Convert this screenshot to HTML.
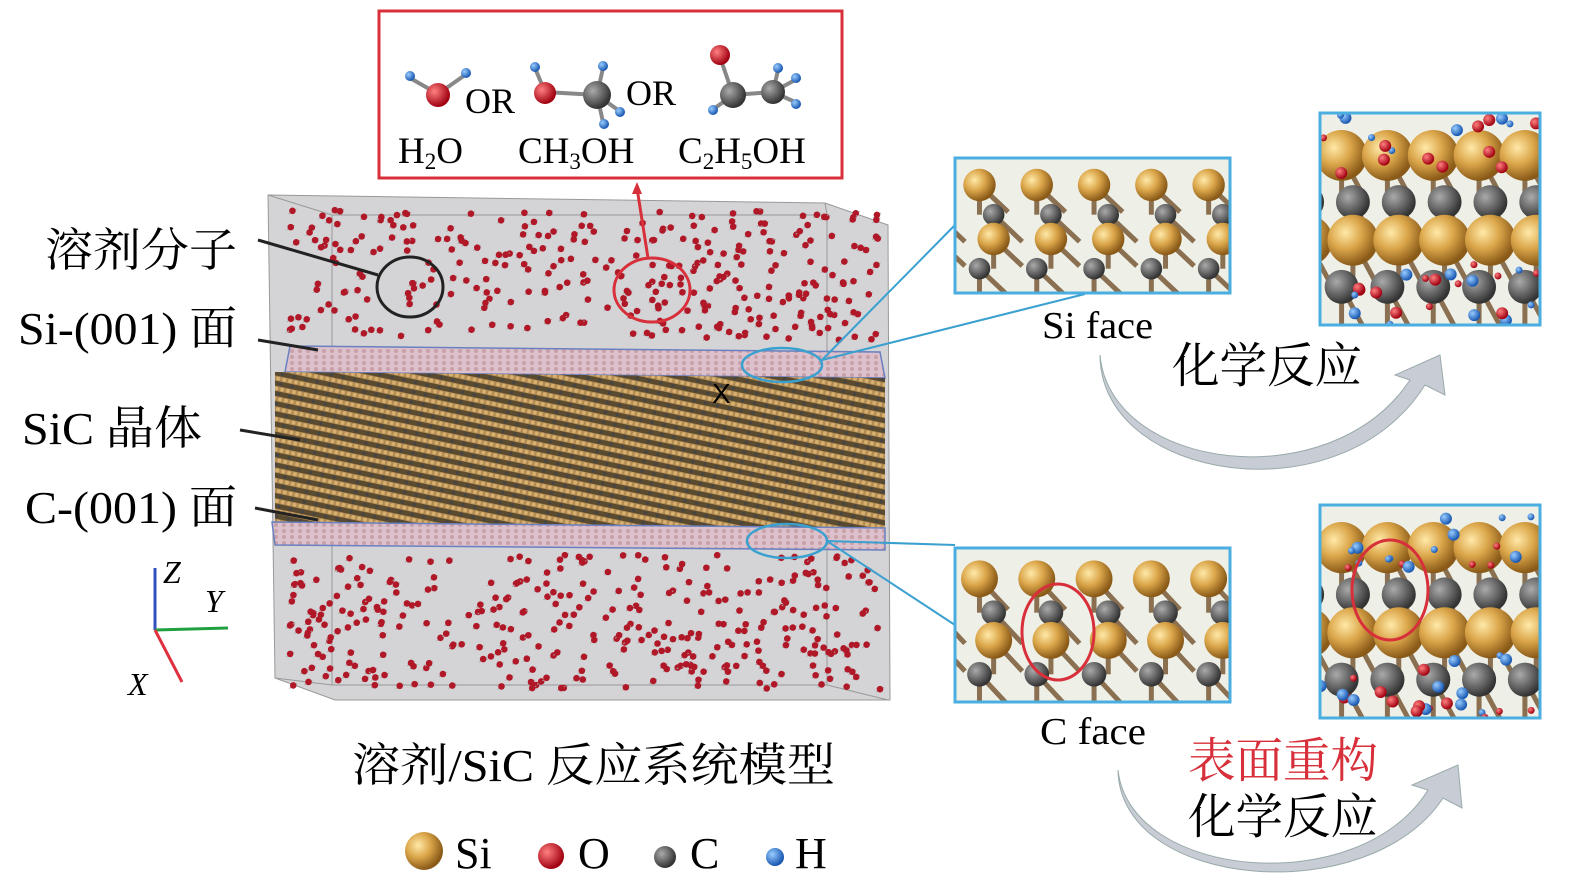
<!DOCTYPE html>
<html><head><meta charset="utf-8"><style>
body{margin:0;background:#fff;}
svg{display:block;font-family:"Liberation Serif","Noto Serif CJK SC",serif;}
</style></head><body>
<svg id="s" width="1575" height="892" viewBox="0 0 1575 892" xmlns="http://www.w3.org/2000/svg">
<defs>
<radialGradient id="gs" cx="35%" cy="35%" r="65%"><stop offset="0" stop-color="#ffe9a8"/><stop offset="0.5" stop-color="#dba64a"/><stop offset="1" stop-color="#8a5a18"/></radialGradient>
<radialGradient id="gc" cx="35%" cy="35%" r="65%"><stop offset="0" stop-color="#aaa"/><stop offset="1" stop-color="#333"/></radialGradient>
<radialGradient id="go" cx="35%" cy="35%" r="65%"><stop offset="0" stop-color="#ff8080"/><stop offset="1" stop-color="#a00010"/></radialGradient>
<radialGradient id="gh" cx="35%" cy="35%" r="65%"><stop offset="0" stop-color="#9cf"/><stop offset="1" stop-color="#1857b0"/></radialGradient>
<pattern id="cry" width="12" height="10" patternUnits="userSpaceOnUse" patternTransform="rotate(12)">
<rect width="12" height="10" fill="#5a4a30"/><rect width="12" height="5" fill="#b08a50"/><circle cx="3" cy="2.5" r="2" fill="#d8b070"/><circle cx="9" cy="2.5" r="2" fill="#d8b070"/><circle cx="6" cy="7.5" r="1.6" fill="#444"/>
</pattern>
<pattern id="pk" width="8" height="6" patternUnits="userSpaceOnUse"><rect width="8" height="6" fill="#dcc0cc"/><circle cx="4" cy="3" r="2" fill="#c8a0a8"/></pattern>
</defs>
<rect x="379" y="11" width="463" height="167" fill="#fff" stroke="#d8303a" stroke-width="3"/>
<g id="mol"></g>
<text x="465" y="113" font-size="36">OR</text>
<text x="626" y="105" font-size="36">OR</text>
<text x="398" y="163" font-size="37">H<tspan font-size="23" dy="6">2</tspan><tspan dy="-6">O</tspan></text>
<text x="518" y="163" font-size="37">CH<tspan font-size="23" dy="6">3</tspan><tspan dy="-6">OH</tspan></text>
<text x="678" y="163" font-size="37">C<tspan font-size="23" dy="6">2</tspan><tspan dy="-6">H</tspan><tspan font-size="23" dy="6">5</tspan><tspan dy="-6">OH</tspan></text>
<polygon points="268,195 825,203 888,225 890,700 335,700 275,678" fill="#d4d4d6" stroke="#999"/>
<rect x="332" y="215" width="495" height="470" fill="none" stroke="#999"/>
<line x1="268" y1="195" x2="332" y2="215" stroke="#999"/><line x1="825" y1="203" x2="827" y2="215" stroke="#999"/><line x1="275" y1="678" x2="332" y2="685" stroke="#999"/><line x1="888" y1="700" x2="827" y2="685" stroke="#999"/>
<g id="dots"></g>
<polygon points="290,346 880,352 885,378 285,372" fill="url(#pk)" stroke="#6a80c0" stroke-width="1.5"/>
<polygon points="275,372 885,378 885,528 275,522" fill="url(#cry)"/>
<polygon points="272,522 885,528 885,550 275,545" fill="url(#pk)" stroke="#6a80c0" stroke-width="1.5"/>
<text x="712" y="403" font-size="28" font-family="Liberation Sans,sans-serif">X</text>
<ellipse cx="410" cy="287" rx="33" ry="30" fill="none" stroke="#222" stroke-width="3"/>
<ellipse cx="652" cy="290" rx="38" ry="32" fill="none" stroke="#d8303a" stroke-width="3"/>
<line x1="648" y1="258" x2="637" y2="188" stroke="#d8303a" stroke-width="3"/><polygon points="637,182 632,194 642,194" fill="#d8303a"/>
<ellipse cx="782" cy="365" rx="40" ry="17" fill="none" stroke="#3aa0d0" stroke-width="2.5"/>
<ellipse cx="787" cy="541" rx="40" ry="17" fill="none" stroke="#3aa0d0" stroke-width="2.5"/>
<g stroke="#3aa0d0" stroke-width="2" fill="none">
<line x1="822" y1="360" x2="955" y2="225"/><line x1="822" y1="360" x2="1085" y2="294"/>
<line x1="827" y1="541" x2="955" y2="545"/><line x1="827" y1="541" x2="955" y2="625"/>
</g>
<g font-size="46">
<text x="45" y="266" textLength="192" lengthAdjust="spacingAndGlyphs">溶剂分子</text>
<text x="18" y="344" textLength="219" lengthAdjust="spacingAndGlyphs">Si-(001) 面</text>
<text x="22" y="444" textLength="180" lengthAdjust="spacingAndGlyphs">SiC 晶体</text>
<text x="25" y="523" textLength="212" lengthAdjust="spacingAndGlyphs">C-(001) 面</text>
</g>
<g stroke="#222" stroke-width="3">
<line x1="258" y1="240" x2="378" y2="275"/><line x1="258" y1="340" x2="318" y2="350"/><line x1="240" y1="430" x2="300" y2="440"/><line x1="255" y1="508" x2="318" y2="520"/>
</g>
<line x1="155" y1="630" x2="155" y2="568" stroke="#3050c0" stroke-width="3"/>
<line x1="155" y1="630" x2="228" y2="628" stroke="#20a040" stroke-width="3"/>
<line x1="155" y1="630" x2="182" y2="682" stroke="#e03040" stroke-width="3"/>
<text x="163" y="583" font-size="32" font-style="italic">Z</text>
<text x="205" y="612" font-size="32" font-style="italic">Y</text>
<text x="128" y="695" font-size="32" font-style="italic">X</text>
<text x="352" y="781" font-size="46" textLength="483" lengthAdjust="spacingAndGlyphs">溶剂/SiC 反应系统模型</text>
<circle cx="424" cy="851" r="19" fill="url(#gs)"/><text x="455" y="868" font-size="44">Si</text>
<circle cx="551" cy="856" r="13" fill="url(#go)"/><text x="578" y="868" font-size="44">O</text>
<circle cx="665" cy="857" r="11" fill="url(#gc)"/><text x="690" y="868" font-size="44">C</text>
<circle cx="775" cy="857" r="9" fill="url(#gh)"/><text x="795" y="868" font-size="44">H</text>
<g id="panels"></g>
<text x="1042" y="338" font-size="38" textLength="111" lengthAdjust="spacingAndGlyphs">Si face</text>
<text x="1040" y="744" font-size="38" textLength="106" lengthAdjust="spacingAndGlyphs">C face</text>
<text x="1172" y="382" font-size="48" textLength="190" lengthAdjust="spacingAndGlyphs">化学反应</text>
<text x="1188" y="777" font-size="48" fill="#d8303a" textLength="190" lengthAdjust="spacingAndGlyphs">表面重构</text>
<text x="1188" y="833" font-size="48" textLength="190" lengthAdjust="spacingAndGlyphs">化学反应</text>
<path d="M1100,355 C1110,470 1330,500 1410,380 L1395,375 L1440,355 L1445,395 L1425,385 C1340,520 1100,480 1100,355Z" fill="#c8ccd4" stroke="#9aa"/>
<path d="M1118,770 C1130,880 1360,900 1428,790 L1412,785 L1458,765 L1462,808 L1443,798 C1370,910 1120,890 1118,770Z" fill="#c8ccd4" stroke="#9aa"/>
</svg>
<script>
var s="http://www.w3.org/2000/svg";function el(p,n,a){var e=document.createElementNS(s,n);for(var k in a)e.setAttribute(k,a[k]);p.appendChild(e);return e;}
var seed=7;function r(){seed=(seed*16807)%2147483647;return seed/2147483647;}
var d=document.getElementById('dots');
function fill(x0,x1,y0,y1,n){for(var i=0;i<n;i++){var x=x0+r()*(x1-x0),y=y0+r()*(y1-y0);el(d,'line',{x1:x-4,y1:y+3,x2:x+4,y2:y-2,stroke:'#aaa','stroke-width':1});el(d,'circle',{cx:x,cy:y,r:3.3,fill:'#b01828'});}}
fill(290,880,210,340,330);fill(290,880,555,690,360);
var m=document.getElementById('mol');
function at(x,y,rr,g){el(m,'circle',{cx:x,cy:y,r:rr,fill:'url(#'+g+')'});}
function bd(a,b,c,e){el(m,'line',{x1:a,y1:b,x2:c,y2:e,stroke:'#888','stroke-width':4});}
bd(438,94,410,78);bd(438,94,465,75);at(410,76,5,'gh');at(466,73,5,'gh');at(438,95,12,'go');
bd(545,92,597,95);bd(597,95,603,68);bd(597,95,618,110);bd(597,95,603,122);bd(545,92,535,68);at(535,67,5,'gh');at(603,66,5,'gh');at(620,112,5,'gh');at(604,124,5,'gh');at(545,93,11,'go');at(597,95,14,'gc');
bd(720,57,733,95);bd(733,95,773,92);bd(733,95,715,108);bd(773,92,795,80);bd(773,92,795,102);bd(773,92,778,70);at(720,55,10,'go');at(713,110,5,'gh');at(796,78,5,'gh');at(796,104,5,'gh');at(778,68,5,'gh');at(733,95,13,'gc');at(773,92,12,'gc');
var P=document.getElementById('panels');
function panel(x,y,w,h,type){var g=el(P,'g',{});el(g,'rect',{x:x,y:y,width:w,height:h,fill:'#eef0e8'});
 var cp=el(P,'clipPath',{id:'c'+x+y});el(cp,'rect',{x:x,y:y,width:w,height:h});var gg=el(P,'g',{'clip-path':'url(#c'+x+y+')'});
 var rows=[[0.2,'gs',0],[0.42,'gc',1],[0.6,'gs',1],[0.82,'gc',0]];
 rows.forEach(function(rw){for(var i=-1;i<8;i++){var cx=x+i*w/4.8+(rw[2]?w/9.6:w/19)+10,cy=y+rw[0]*h;el(gg,'line',{x1:cx,y1:cy,x2:cx,y2:cy+h*0.22,stroke:'#8a7050','stroke-width':5});el(gg,'line',{x1:cx,y1:cy,x2:cx+w/9.6,y2:cy+h*0.2,stroke:'#8a7050','stroke-width':5});el(gg,'circle',{cx:cx,cy:cy,r:rw[1]=='gs'?h*0.12:h*0.08,fill:'url(#'+rw[1]+')'});}});
 if(type==2){for(var i=0;i<40;i++){var cx=x+r()*w,cy=y+(r()<0.5?r()*h*0.3:h*0.7+r()*h*0.3);el(gg,'circle',{cx:cx,cy:cy,r:r()<0.5?6:3.5,fill:r()<0.5?'url(#go)':'url(#gh)'});}}
 el(P,'rect',{x:x,y:y,width:w,height:h,fill:'none',stroke:'#4aaee0','stroke-width':3});}
panel(955,158,275,135,1);panel(1320,113,220,212,2);panel(955,548,275,154,1);panel(1320,505,220,213,2);
el(P,'ellipse',{cx:1058,cy:632,rx:36,ry:48,fill:'none',stroke:'#d8303a','stroke-width':3});
el(P,'ellipse',{cx:1390,cy:590,rx:38,ry:50,fill:'none',stroke:'#d8303a','stroke-width':3});
</script>
</body></html>
